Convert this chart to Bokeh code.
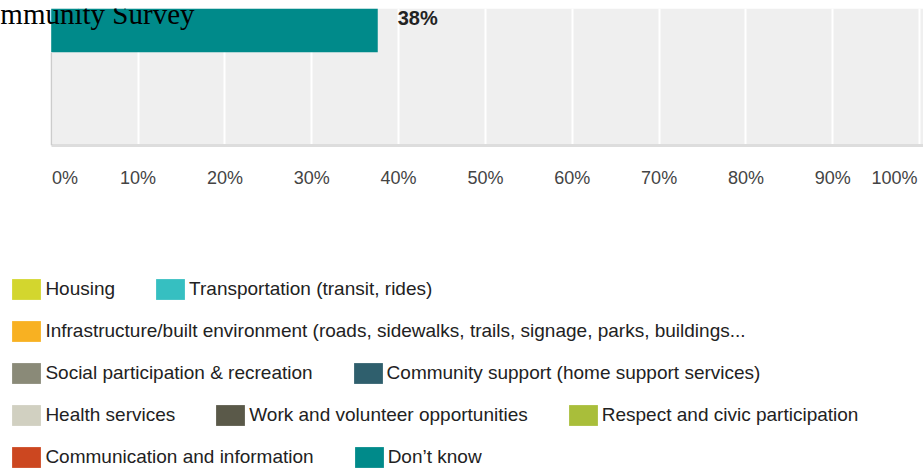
import numpy as np
from bokeh.plotting import figure
from bokeh.models import (Range1d, FixedTicker, CustomJSTickFormatter, Label,
                          Legend, LegendItem, ColumnDataSource, BoxAnnotation)
from bokeh.layouts import column
from bokeh.embed import file_html
from bokeh.resources import INLINE
from bokeh.core.properties import value

# ---------------- data ----------------
title_text = "Community Survey"

categories = [
    "Housing",
    "Transportation (transit, rides)",
    "Infrastructure/built environment (roads, sidewalks, trails, signage, parks, buildings...",
    "Social participation & recreation",
    "Community support (home support services)",
    "Health services",
    "Work and volunteer opportunities",
    "Respect and civic participation",
    "Communication and information",
    "Don\u2019t know",
]
colors = [
    "#d3d62e", "#36bfc1", "#f8b122", "#8a8a78", "#2f5f6d",
    "#d1d0c1", "#5a5949", "#a9be3a", "#cc4720", "#008a8a",
]

bar_categories = ["Don\u2019t know"]
bar_values = [37.6]

x_ticks = [0, 10, 20, 30, 40, 50, 60, 70, 80, 90, 100]
x_tick_labels = ["0%", "10%", "20%", "30%", "40%", "50%", "60%", "70%", "80%", "90%", "100%"]

legend_row_sizes = [2, 1, 2, 3, 2]

# ---------------- styling ----------------
FONT = "Liberation Sans"
BAR_H = 0.5
Y_START, Y_END = -0.922, 0.065
X_START, X_END = -5.838, 100.44

# label positions: first/last labels are kept inside the plot
label_pos = list(x_ticks)
label_pos[0] = x_ticks[0] + 1.6
label_pos[-1] = x_ticks[-1] - 2.9

p = figure(width=923, height=200, output_backend="svg", toolbar_location=None,
           x_range=Range1d(X_START, X_END), y_range=Range1d(Y_START, Y_END),
           min_border_left=0, min_border_right=0, min_border_top=8,
           min_border_bottom=55, background_fill_color="white",
           border_fill_color="white", outline_line_color=None)

# plot area background (starts at 0%)
p.add_layout(BoxAnnotation(left=x_ticks[0], fill_color="#efefef", fill_alpha=1,
                           line_color=None, level="image"))

p.xgrid.ticker = FixedTicker(ticks=x_ticks)
p.xgrid.grid_line_color = "white"
p.xgrid.grid_line_width = 2
p.ygrid.visible = False

xa = p.xaxis[0]
xa.ticker = FixedTicker(ticks=label_pos)
xa.formatter = CustomJSTickFormatter(
    args=dict(pos=label_pos, lab=x_tick_labels),
    code="""
    for (let i = 0; i < pos.length; i++) {
        if (Math.abs(pos[i] - tick) < 1e-6) return lab[i];
    }
    return '';
    """)
xa.bounds = (x_ticks[0], X_END)
xa.major_tick_line_color = None
xa.minor_tick_line_color = None
xa.major_tick_out = 0
xa.axis_line_color = "#dddddd"
xa.axis_line_width = 3
xa.major_label_standoff = 22
xa.major_label_text_font = FONT
xa.major_label_text_font_size = "18px"
xa.major_label_text_color = "#444444"

ya = p.yaxis[0]
ya.fixed_location = x_ticks[0]
ya.ticker = FixedTicker(ticks=[])
ya.major_tick_line_color = None
ya.minor_tick_line_color = None
ya.major_label_text_font_size = "0px"
ya.axis_line_color = "#cccccc"
ya.axis_line_width = 1.5
ya.bounds = (Y_START, -BAR_H / 2)

bar_y = [-i for i in range(len(bar_categories))]
bar_colors = [colors[categories.index(c)] for c in bar_categories]
p.hbar(y=bar_y, left=0, right=bar_values, height=BAR_H,
       fill_color=bar_colors, line_color=None)
p.text(x=bar_values, y=bar_y, text=[f"{v:.0f}%" for v in bar_values],
       x_offset=20, text_align="left", text_baseline="middle",
       text_font=value(FONT), text_font_style="bold", text_font_size="20px",
       text_color="#222222")

p.add_layout(Label(x=194, y=131.7, x_units="screen", y_units="screen",
                   text=title_text, text_font="Liberation Serif",
                   text_font_size="29px", text_align="right",
                   text_baseline="alphabetic", text_color="black"))

# ---------------- legend figure ----------------
lg = figure(width=923, height=270, output_backend="svg", toolbar_location=None,
            x_range=Range1d(0, 1), y_range=Range1d(0, 1), min_border=0,
            x_axis_location=None, y_axis_location=None,
            outline_line_color=None, background_fill_color="white",
            border_fill_color="white")
lg.grid.visible = False

n_cat = len(categories)
legend_src = ColumnDataSource(dict(cat=categories, color=colors,
                                   y=np.full(n_cat, np.nan),
                                   right=np.full(n_cat, np.nan)))
leg_r = lg.hbar(y="y", left=0, right="right", height=0.5, fill_color="color",
                line_color=None, source=legend_src)

start = 0
for k, n in enumerate(legend_row_sizes):
    items = [LegendItem(label=categories[i], renderers=[leg_r], index=i)
             for i in range(start, start + n)]
    start += n
    leg = Legend(items=items, orientation="horizontal",
                 location=(8.4, 167.6 - 42 * k),
                 glyph_width=36, glyph_height=26, label_standoff=1,
                 spacing=37, padding=0, margin=0, label_height=14,
                 border_line_color=None, background_fill_alpha=0,
                 label_text_font=FONT, label_text_font_size="19px",
                 label_text_baseline="middle",
                 label_text_color="#222222")
    lg.add_layout(leg)

layout = column(p, lg, spacing=0)

open("out.html", "w").write(file_html(layout, INLINE))
